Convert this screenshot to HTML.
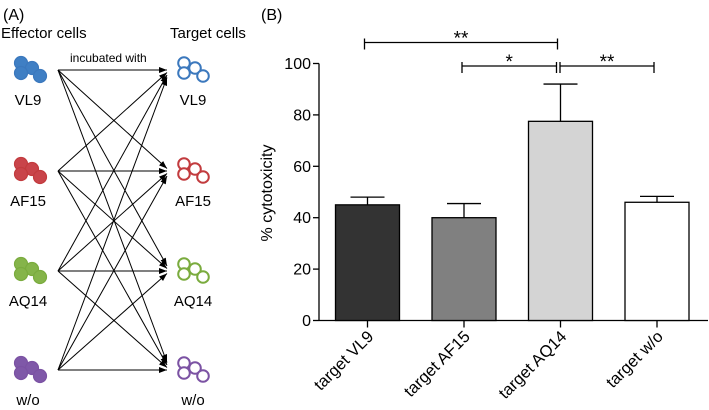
<!DOCTYPE html>
<html><head><meta charset="utf-8"><style>
html,body{margin:0;padding:0;background:#fff;}
svg{display:block;font-family:"Liberation Sans",Arial,sans-serif;}
</style></head><body>
<svg id="fig" width="709" height="410" viewBox="0 0 709 410">
<defs><marker id="ah" markerWidth="8" markerHeight="6" refX="8" refY="3" orient="auto" markerUnits="userSpaceOnUse"><path d="M0,0 L8,3 L0,6 z" fill="#000"/></marker></defs>
<g id="panelA">
<text x="3" y="20" font-size="16">(A)</text>
<text x="1" y="38" font-size="15">Effector cells</text>
<text x="170" y="38" font-size="15">Target cells</text>
<text x="70" y="62" font-size="12">incubated with</text>
<g id="arrows"></g>
<g id="cells"></g>
</g>
<g id="panelB">
<text x="261" y="20" font-size="16">(B)</text>
<g id="chart"></g>
</g>
</svg>
<script>
const NS='http://www.w3.org/2000/svg';
function mk(tag,attrs,parent){const e=document.createElementNS(NS,tag);for(const k in attrs)e.setAttribute(k,attrs[k]);parent.appendChild(e);return e;}
// Panel A
const cellNames=['VL9','AF15','AQ14','w/o'];
const cellColors=['#3b78bd','#c23b3e','#7aab3e','#7b52a3'];
const cellFill=['#3f7fc4','#c9444a','#85b44a','#7f58a8'];
const rowY=[70,171,271,370];
const arrowsG=document.getElementById('arrows');
const cellsG=document.getElementById('cells');
const offs=[[21,63],[32,68],[21,73],[40,76]];
for(let i=0;i<4;i++){
  const g=mk('g',{},cellsG);
  
  
  offs.forEach(o=>mk('circle',{cx:o[0],cy:o[1]-70+rowY[i],r:6.5,fill:cellFill[i],stroke:cellColors[i],'stroke-width':1.2},g));
  const t=mk('text',{x:28,y:rowY[i]+35,'font-size':15,'text-anchor':'middle'},cellsG);
  t.textContent=cellNames[i];
  
  
  const g2=mk('g',{},cellsG);
  
  
  offs.forEach(o=>mk('circle',{cx:o[0]+163,cy:o[1]-70+rowY[i],r:5.8,fill:'#fff',stroke:cellColors[i],'stroke-width':2},g2));
  const t2=mk('text',{x:193,y:rowY[i]+35,'font-size':15,'text-anchor':'middle'},cellsG);
  t2.textContent=cellNames[i];
  
  
}
for(let i=0;i<4;i++)for(let j=0;j<4;j++){
  const ty=rowY[j]+(i-j)*2.5;
  const l=mk('line',{x1:58,y1:rowY[i],x2:167,y2:ty,stroke:'#000','stroke-width':1,'marker-end':'url(#ah)'},arrowsG);
  
  
}
// Panel B chart data
const categories=['target VL9','target AF15','target AQ14','target w/o'];
const values=[45,40,77.5,46];
const errors=[3,5.5,14.5,2.3];
const barColors=['#333333','#808080','#d4d4d4','#ffffff'];
const yTicks=[0,20,40,60,80,100];
const sigPairs=[[0,2],[1,2],[2,3]];
const sigLabels=['**','*','**'];
const sigLevels=[0,1,1];

const chart=document.getElementById('chart');
const x0=319,yBase=320.5,yTop=63.5,yMax=100;
const Y=v=>yBase-(v/yMax)*(yBase-yTop);
const step=96.5,first=367.5,bw=64;
const X=i=>first+i*step;
const ax=mk('line',{x1:x0,y1:yTop,x2:x0,y2:yBase,stroke:'#000','stroke-width':1.3},chart);

const xa=mk('line',{x1:x0,y1:yBase,x2:708,y2:yBase,stroke:'#000','stroke-width':1.3},chart);

yTicks.forEach(v=>{
  mk('line',{x1:x0-6,y1:Y(v),x2:x0,y2:Y(v),stroke:'#000','stroke-width':1.3},chart);
  const t=mk('text',{x:x0-8,y:Y(v)+5.5,'font-size':16,'text-anchor':'end'},chart);
  t.textContent=v;
  
  
});
const yl=mk('text',{x:0,y:0,'font-size':16,'text-anchor':'middle',transform:'translate(272,193) rotate(-90)'},chart);
yl.textContent='% cytotoxicity';


categories.forEach((c,i)=>{
  const cx=X(i);
  const eb=mk('path',{d:`M${cx},${Y(values[i])} V${Y(values[i]+errors[i])} M${cx-17},${Y(values[i]+errors[i])} H${cx+17}`,stroke:'#000','stroke-width':1.3,fill:'none'},chart);
  
  
  const r=mk('rect',{x:cx-bw/2,y:Y(values[i]),width:bw,height:yBase-Y(values[i]),fill:barColors[i],stroke:'#000','stroke-width':1.3},chart);
  
  
  mk('line',{x1:cx,y1:yBase,x2:cx,y2:yBase+7,stroke:'#000','stroke-width':1.3},chart);
  const t=mk('text',{x:0,y:0,'font-size':16.5,'text-anchor':'end',transform:`translate(${cx+7},${yBase+17}) rotate(-45)`},chart);
  t.textContent=c;
  
  
});
const levY=[42.5,66];
sigPairs.forEach((p,k)=>{
  const y=levY[sigLevels[k]];
  let xa1=X(p[0])-3,xa2=X(p[1])-3;
  if(k===1){xa1=X(p[0])-2;xa2=X(p[1])-4;}
  if(k===2){xa1=X(p[0])-0.5;xa2=X(p[1])-3;}
  const b=mk('path',{d:`M${xa1},${y-4} V${y+7} M${xa1},${y} H${xa2} M${xa2},${y-4} V${y+7}`,stroke:'#000','stroke-width':1.3,fill:'none'},chart);
  
  
  const t=mk('text',{x:(xa1+xa2)/2,y:y+2,'font-size':19,'text-anchor':'middle'},chart);
  t.textContent=sigLabels[k];
  
  
});
</script>
</body></html>
